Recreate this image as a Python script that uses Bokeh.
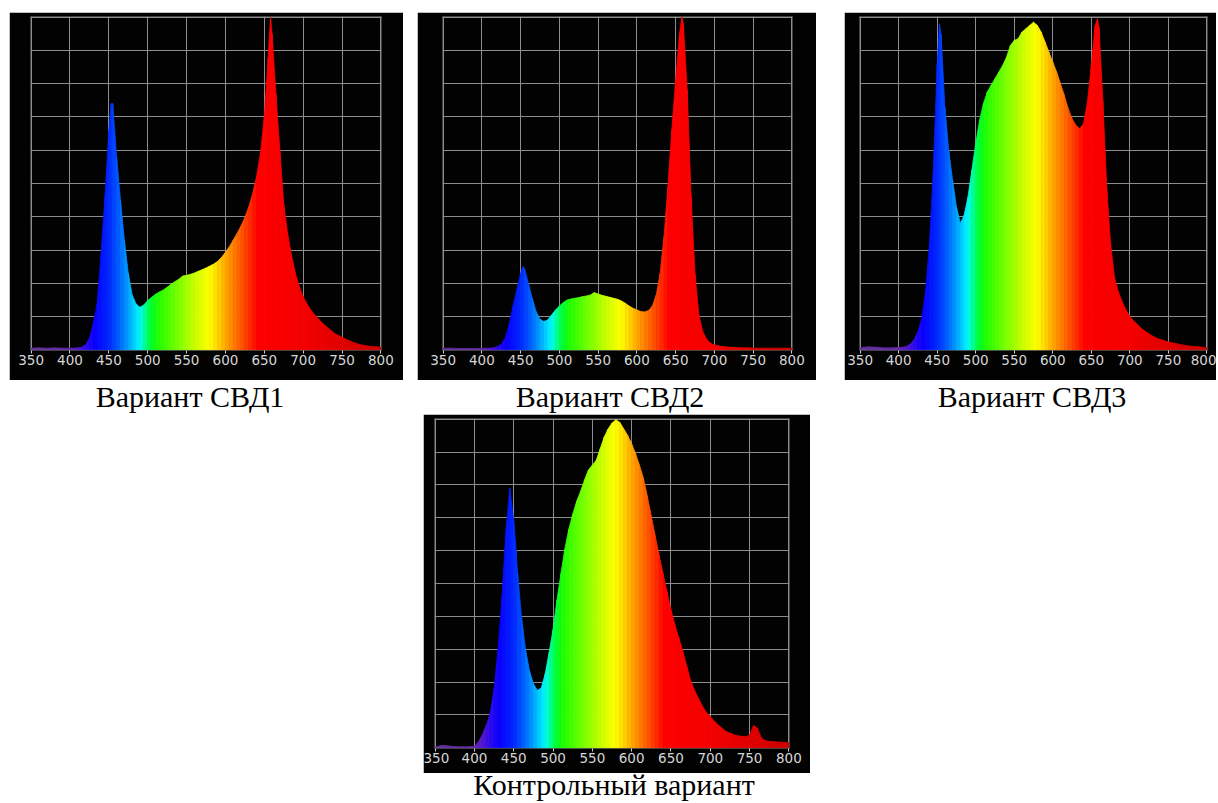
import numpy as np
from bokeh.plotting import figure
from bokeh.layouts import column, row
from bokeh.models import Range1d, FixedTicker, Div, ColumnDataSource
from bokeh.embed import file_html
from bokeh.resources import INLINE

# ---------------- data (y in grid units 0..10) ----------------
WAVELENGTH = [350, 360, 370, 380, 390, 400,
              405, 410, 415, 420, 425, 430, 435, 440, 445, 450,
              453,
              455, 460, 465, 470, 475, 480, 485, 490, 495, 500,
              505, 510, 515, 520, 525, 530, 535, 540, 545, 550,
              555, 560, 565, 570, 575, 580, 585, 590, 595, 600,
              605, 610, 615, 620, 625, 630, 635, 640, 645, 650,
              655,
              658,
              660, 665, 670, 675, 680, 685, 690, 695, 700,
              705, 710, 715, 720, 725, 730, 735, 740, 745, 750,
              755, 760, 765, 770, 775, 780, 785, 790, 795, 800]

SVD1 = [0.05, 0.06, 0.05, 0.06, 0.05, 0.05,
        0.05, 0.06, 0.08, 0.15, 0.35, 0.8, 1.4, 2.9, 4.6, 6.6,
        7.4,
        7.4, 5.8, 4.5, 3.3, 2.3, 1.65, 1.38, 1.28, 1.35, 1.48,
        1.58, 1.67, 1.74, 1.8, 1.88, 1.97, 2.05, 2.12, 2.22, 2.24,
        2.27, 2.31, 2.36, 2.41, 2.46, 2.52, 2.58, 2.66, 2.78, 2.93,
        3.1, 3.3, 3.5, 3.72, 3.98, 4.3, 4.7, 5.2, 5.9, 7.0,
        8.8,
        10.0,
        9.5, 7.7, 6.0, 4.4, 3.5, 2.85, 2.3, 1.9, 1.6,
        1.38, 1.2, 1.05, 0.92, 0.8, 0.7, 0.6, 0.5, 0.44, 0.38,
        0.32, 0.27, 0.22, 0.18, 0.15, 0.13, 0.11, 0.1, 0.09, 0.08]

SVD2 = [0.05, 0.05, 0.04, 0.04, 0.04, 0.04,
        0.05, 0.05, 0.06, 0.1, 0.17, 0.35, 0.75, 1.3, 1.8, 2.3,
        2.5,
        2.45, 2.0, 1.55, 1.15, 0.92, 0.85, 0.9, 1.05, 1.2, 1.32,
        1.42, 1.5, 1.53, 1.55, 1.57, 1.6, 1.62, 1.65, 1.72, 1.68,
        1.64, 1.61, 1.58, 1.55, 1.52, 1.47, 1.4, 1.32, 1.25, 1.2,
        1.15, 1.14, 1.18, 1.32, 1.65, 2.3, 3.4, 4.9, 6.6, 8.1,
        9.5,
        10.0,
        9.8, 7.8, 4.6, 2.3, 1.05, 0.55, 0.32, 0.2, 0.15,
        0.12, 0.1, 0.09, 0.08, 0.07, 0.07, 0.06, 0.06, 0.06, 0.05,
        0.05, 0.05, 0.05, 0.05, 0.05, 0.05, 0.05, 0.05, 0.05, 0.05]

SVD3 = [0.06, 0.09, 0.08, 0.06, 0.06, 0.07,
        0.08, 0.1, 0.17, 0.3, 0.55, 0.95, 1.8, 3.2, 5.4, 8.6,
        9.8,
        9.5, 7.3, 6.0, 5.1, 4.3, 3.8, 4.05, 4.6, 5.4, 6.2,
        6.9, 7.4, 7.75, 7.95, 8.15, 8.35, 8.55, 8.8, 9.15, 9.3,
        9.35, 9.55, 9.65, 9.75, 9.85, 9.75, 9.55, 9.25, 8.95, 8.65,
        8.35, 8.0, 7.65, 7.25, 6.95, 6.75, 6.65, 6.8, 7.45, 8.55,
        9.75,
        9.95,
        9.7, 7.5, 4.9, 3.2, 2.2, 1.75, 1.45, 1.2, 1.0,
        0.87, 0.76, 0.65, 0.56, 0.48, 0.41, 0.35, 0.31, 0.27, 0.24,
        0.21, 0.19, 0.16, 0.14, 0.12, 0.11, 0.1, 0.09, 0.08, 0.07]

CONTROL = [0.03, 0.08, 0.05, 0.03, 0.03, 0.05,
           0.18, 0.4, 0.68, 1.05, 1.8, 3.0, 4.6, 6.6, 7.9, 6.9,
           6.0,
           5.3, 3.95, 3.0, 2.35, 1.95, 1.75, 1.82, 2.25, 2.9, 3.6,
           4.5, 5.3, 6.05, 6.65, 7.1, 7.5, 7.8, 8.15, 8.45, 8.6,
           8.75, 9.1, 9.45, 9.7, 9.88, 9.98, 9.9, 9.7, 9.5, 9.25,
           8.95, 8.6, 8.2, 7.65, 7.05, 6.45, 5.85, 5.3, 4.75, 4.2,
           3.75,
           3.5,
           3.35, 2.95, 2.5, 2.05, 1.75, 1.5, 1.27, 1.08, 0.95,
           0.82, 0.7, 0.6, 0.5, 0.45, 0.4, 0.37, 0.35, 0.34, 0.38,
           0.68, 0.6, 0.3, 0.22, 0.2, 0.19, 0.18, 0.17, 0.17, 0.16]

CAPTIONS = ["Вариант СВД1", "Вариант СВД2", "Вариант СВД3", "Контрольный вариант"]
X_TICKS = [350, 400, 450, 500, 550, 600, 650, 700, 750, 800]
Y_GRID = [0, 1, 2, 3, 4, 5, 6, 7, 8, 9, 10]

# ---------------- style: colour of light by wavelength ----------------
STOP_NM = [350, 400, 412, 422, 432, 450, 460, 470, 480, 490, 497, 505, 515, 530,
           550, 565, 580, 590, 600, 615, 630, 642, 700, 750, 800]
STOP_RGB = [(100, 50, 150), (100, 40, 170), (80, 20, 210), (40, 10, 240), (10, 0, 255),
            (0, 40, 255), (0, 80, 255), (0, 130, 255), (0, 190, 255), (0, 250, 255),
            (0, 255, 150), (0, 255, 40), (40, 255, 0), (90, 255, 0), (160, 255, 0),
            (215, 255, 0), (255, 255, 0), (255, 215, 0), (255, 170, 0), (255, 110, 0),
            (255, 50, 0), (255, 0, 0), (245, 0, 0), (225, 0, 0), (205, 0, 0)]


def spectrum_hex(nm):
    r = np.interp(nm, STOP_NM, [c[0] for c in STOP_RGB])
    g = np.interp(nm, STOP_NM, [c[1] for c in STOP_RGB])
    b = np.interp(nm, STOP_NM, [c[2] for c in STOP_RGB])
    return "#%02x%02x%02x" % (int(round(r)), int(round(g)), int(round(b)))


def panel(values, width, height, left, right, top, bottom, margin):
    p = figure(width=width, height=height,
               x_range=Range1d(349.2, 800.8), y_range=Range1d(-0.02, 10.02),
               output_backend="svg", toolbar_location=None, y_axis_location=None,
               min_border_left=left, min_border_right=right,
               min_border_top=top, min_border_bottom=bottom,
               background_fill_color="#020202", border_fill_color="#020202",
               outline_line_color=None, margin=margin)
    xs, ys, cols = [], [], []
    for i in range(len(WAVELENGTH) - 1):
        x0, x1 = WAVELENGTH[i], WAVELENGTH[i + 1]
        xs.append([x0, x0, x1, x1])
        ys.append([0, values[i], values[i + 1], 0])
        cols.append(spectrum_hex((x0 + x1) / 2.0))
    src = ColumnDataSource(dict(xs=xs, ys=ys, c=cols))
    p.patches("xs", "ys", source=src, fill_color="c", line_color="c", line_width=0.8)

    p.xgrid.ticker = FixedTicker(ticks=X_TICKS)
    p.ygrid.ticker = FixedTicker(ticks=Y_GRID)
    for g in (p.xgrid, p.ygrid):
        g.grid_line_color = "#8c8c8c"
        g.grid_line_width = 1

    ax = p.xaxis[0]
    ax.ticker = FixedTicker(ticks=X_TICKS)
    ax.axis_line_color = None
    ax.major_tick_in = 0
    ax.major_tick_out = 3
    ax.major_tick_line_color = "#cfcfcf"
    ax.minor_tick_line_color = None
    ax.major_label_standoff = 1
    ax.major_label_text_font = "DejaVu Sans"
    ax.major_label_text_font_size = "13.5px"
    ax.major_label_text_color = "#d6d6d6"
    return p


def caption(text, width, height, left, line_height):
    return Div(text=text, width=width, height=height, margin=(0, 0, 0, left),
               styles={"font-family": "'Liberation Serif', 'Times New Roman', serif",
                       "font-size": "30px", "line-height": line_height,
                       "text-align": "center", "color": "#000000",
                       "white-space": "nowrap"})


p1 = panel(SVD1, 394, 368, 21, 22, 4, 27, (12, 0, 0, 9))
p2 = panel(SVD2, 399, 368, 25, 24, 4, 27, (12, 0, 0, 14))
p3 = panel(SVD3, 372, 368, 15, 9, 3, 30, (12, 0, 0, 28))
p4 = panel(CONTROL, 387, 359, 11, 21, 4, 25, (0, 0, 0, 423))

c1 = caption(CAPTIONS[0], 364, 34, 8, "34px")
c2 = caption(CAPTIONS[1], 476, 34, 0, "34px")
c3 = caption(CAPTIONS[2], 368, 34, 0, "34px")
c4 = caption(CAPTIONS[3], 400, 30, 414, "24px")

layout = column(row(p1, p2, p3), row(c1, c2, c3), p4, c4)

open("out.html", "w").write(file_html(layout, INLINE))
